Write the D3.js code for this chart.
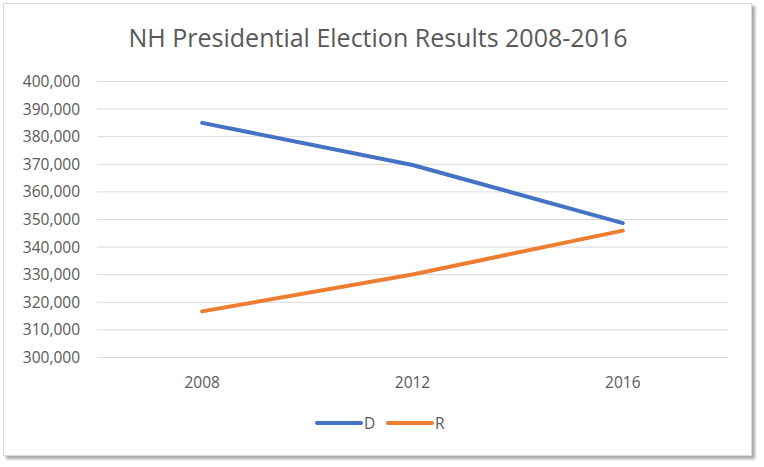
<!DOCTYPE html>
<html><head><meta charset="utf-8">
<script src="https://cdn.jsdelivr.net/npm/d3@7"></script>
<style>body{margin:0;background:#fff;} text{font-family:"Open Sans","Noto Sans",sans-serif;fill:#595959;}</style>
</head><body>
<svg id="c" width="764" height="467"></svg>
<script>
const years = ["2008","2012","2016"];
const demVotes = [384826, 369561, 348526];
const repVotes = [316534, 329918, 345790];
const seriesNames = ["D","R"];
const seriesColors = ["#4472C4","#ED7D31"];
const yTicks = [300000,310000,320000,330000,340000,350000,360000,370000,380000,390000,400000];
const title = "NH Presidential Election Results 2008-2016";

const svg = d3.select("#c");
const defs = svg.append("defs");
const f = defs.append("filter").attr("id","sh").attr("x","-5%").attr("y","-5%").attr("width","110%").attr("height","110%");
f.append("feDropShadow").attr("dx",3).attr("dy",3).attr("stdDeviation",1.5).attr("flood-color","#000").attr("flood-opacity",0.35);
svg.append("rect").attr("x",3.5).attr("y",3.5).attr("width",748).attr("height",452)
  .attr("fill","#fff").attr("stroke","#d9d9d9").attr("stroke-width",1).attr("filter","url(#sh)");

const x = d3.scaleBand().domain(years).range([97,728]);
const y = d3.scaleLinear().domain([300000,400000]).range([357,81]);

svg.append("text").attr("x",378).attr("y",47).attr("text-anchor","middle")
  .style("font-size","25px").text(title);

const yAxis = d3.axisLeft(y).tickValues(yTicks).tickSize(-(728-97)).tickFormat(d3.format(","));
const gy = svg.append("g").attr("transform","translate(97,0)").call(yAxis);
gy.select(".domain").remove();
gy.selectAll(".tick line").attr("stroke","#d9d9d9").attr("stroke-width",1);
gy.selectAll(".tick text").attr("x",-17).attr("dy","0.36em").style("font-size","15.5px").attr("fill","#595959");

const xAxis = d3.axisBottom(x).tickSize(0);
const gx = svg.append("g").attr("transform","translate(0,357)").call(xAxis);
gx.select(".domain").remove();
gx.selectAll(".tick text").attr("dy","0").attr("y",31).style("font-size","15.5px").attr("fill","#595959");

const line = d3.line().x((d,i)=>x(years[i])+x.bandwidth()/2).y(d=>y(d));
[demVotes, repVotes].forEach((vals,i)=>{
  svg.append("path").datum(vals).attr("d",line).attr("fill","none")
    .attr("stroke",seriesColors[i]).attr("stroke-width",4).attr("stroke-linecap","round").attr("stroke-linejoin","round");
});

const legX = [317, 388];
seriesNames.forEach((n,i)=>{
  const g = svg.append("g").attr("transform",`translate(${legX[i]},423)`);
  g.append("line").attr("x1",0).attr("x2",44).attr("y1",0).attr("y2",0)
    .attr("stroke",seriesColors[i]).attr("stroke-width",4).attr("stroke-linecap","round");
  g.append("text").attr("x",47).attr("y",5.5).style("font-size","15.5px").text(n);
});
</script>
</body></html>
